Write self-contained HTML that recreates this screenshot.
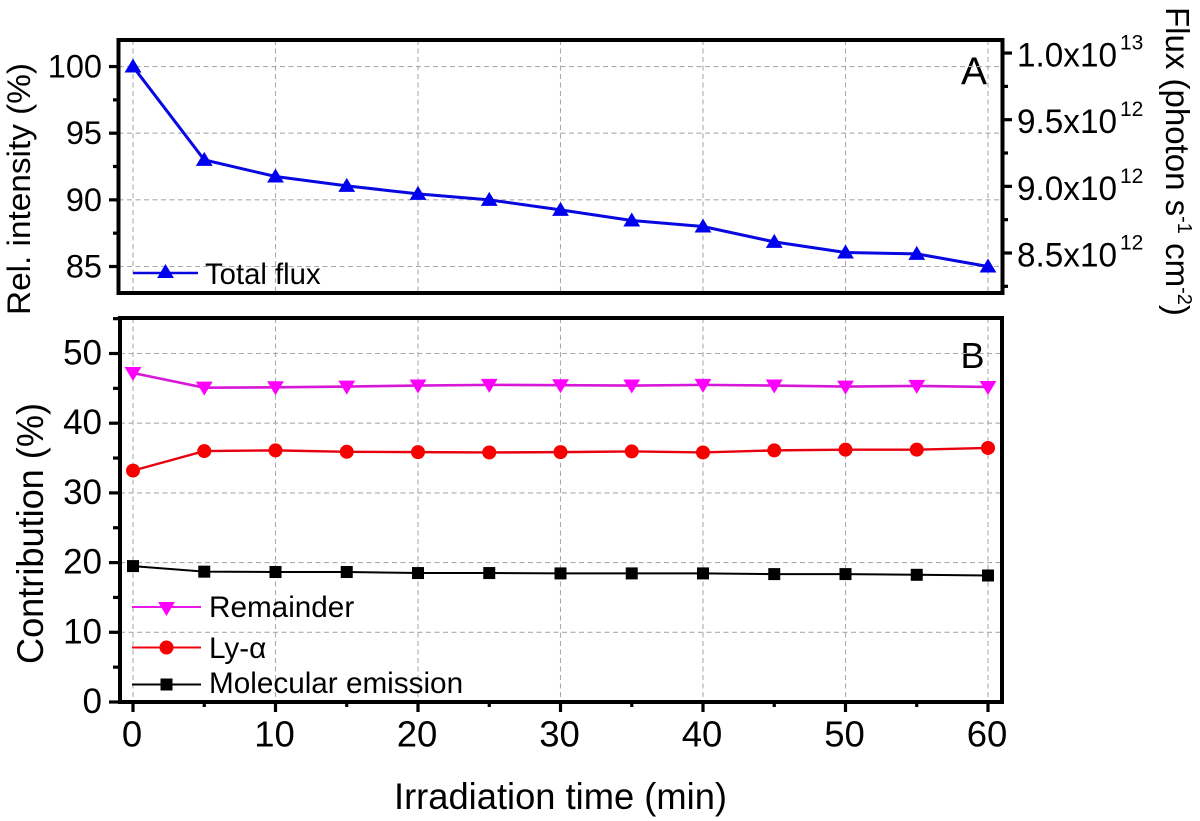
<!DOCTYPE html>
<html lang="en">
<head>
<meta charset="utf-8">
<title>Irradiation time chart</title>
<style>
html,body{margin:0;padding:0;background:#fff;width:1200px;height:821px;overflow:hidden}
svg{display:block}
text{font-family:"Liberation Sans",Arial,sans-serif;fill:#000}
</style>
</head>
<body>
<svg id="chart" xmlns="http://www.w3.org/2000/svg" width="1200" height="821" viewBox="0 0 1200 821">
  <text transform="translate(30,315) rotate(-90)" font-size="32.5" textLength="252" lengthAdjust="spacingAndGlyphs">Rel. intensity (%)</text>
  <text transform="translate(43,664) rotate(-90)" font-size="37" textLength="261" lengthAdjust="spacingAndGlyphs">Contribution (%)</text>
  <text transform="translate(1166,7) rotate(90)" font-size="33">Flux (photon s<tspan dy="-12" font-size="20">-1</tspan><tspan dy="12"> cm</tspan><tspan dy="-12" font-size="20">-2</tspan><tspan dy="12">)</tspan></text>
  <text x="394" y="809" font-size="37" textLength="333" lengthAdjust="spacingAndGlyphs">Irradiation time (min)</text>
  <text x="961" y="84.5" font-size="39">A</text>
  <text x="960.5" y="368" font-size="36">B</text>
</svg>
<script>
const times = [0, 5, 10, 15, 20, 25, 30, 35, 40, 45, 50, 55, 60];
const totalFlux = [100, 93, 91.75, 91.05, 90.45, 90, 89.25, 88.45, 88, 86.85, 86.05, 85.95, 85];
const remainder = [47.2, 45.1, 45.15, 45.25, 45.4, 45.5, 45.45, 45.4, 45.5, 45.4, 45.25, 45.35, 45.2];
const lyAlpha = [33.2, 36, 36.1, 35.9, 35.85, 35.8, 35.85, 35.95, 35.8, 36.1, 36.2, 36.2, 36.45];
const molecular = [19.5, 18.7, 18.65, 18.65, 18.5, 18.5, 18.45, 18.45, 18.45, 18.35, 18.35, 18.25, 18.15];
const xTicks = [0, 10, 20, 30, 40, 50, 60];
const xMinorTicks = [5, 15, 25, 35, 45, 55];
const topTicks = [85, 90, 95, 100];
const topMinorTicks = [87.5, 92.5, 97.5];
const bottomTicks = [0, 10, 20, 30, 40, 50];
const bottomMinorTicks = [5, 15, 25, 35, 45, 55];
const fluxTicks = [8.5, 9.0, 9.5, 10.0];
const fluxMinorTicks = [8.25, 8.75, 9.25, 9.75];
const fluxTickMantissa = ['8.5', '9.0', '9.5', '1.0'];
const fluxTickExponent = ['12', '12', '12', '13'];

const NS = 'http://www.w3.org/2000/svg';
const svg = document.getElementById('chart');
const xScale = v => 133 + (v - 0) * 14.25;
const topY = v => 266.5 + (85 - v) * 13.33;
const bottomY = v => 702 - v * 6.97;
const fluxY = v => 253 - (v - 8.5) * 133.3;

function make(tag, attrs, text) {
  const el = document.createElementNS(NS, tag);
  for (const k in attrs) el.setAttribute(k, attrs[k]);
  if (text !== undefined) el.textContent = text;
  svg.appendChild(el);
  return el;
}
function line(name, x1, y1, x2, y2, stroke, width, dash) {
  const el = make('line', { x1, y1, x2, y2, stroke, 'stroke-width': width });
  if (dash) el.setAttribute('stroke-dasharray', dash);
  
  
  return el;
}
function label(name, x, y, size, anchor, str) {
  const el = make('text', { x, y, 'font-size': size, 'text-anchor': anchor }, str);
  
  
  return el;
}
function marker(name, kind, cx, cy, r, color) {
  let el;
  if (kind === 'up') {
    el = make('polygon', { points: `${cx},${cy - r} ${cx + r * 1.05},${cy + r * 0.75} ${cx - r * 1.05},${cy + r * 0.75}`, fill: color });
  } else if (kind === 'down') {
    el = make('polygon', { points: `${cx},${cy + r} ${cx + r * 1.05},${cy - r * 0.75} ${cx - r * 1.05},${cy - r * 0.75}`, fill: color });
  } else if (kind === 'circle') {
    el = make('circle', { cx, cy, r, fill: color });
  } else {
    el = make('rect', { x: cx - r, y: cy - r, width: 2 * r, height: 2 * r, fill: color });
  }
  
  
  return el;
}
function series(name, values, yFn, lineColor, markerColor, width, kind, r) {
  const pts = values.map((v, i) => xScale(times[i]) + ',' + yFn(v)).join(' ');
  const path = make('polyline', { points: pts, fill: 'none', stroke: lineColor, 'stroke-width': width });
  
  
  values.forEach((v, i) => marker(name + '-point', kind, xScale(times[i]), yFn(v), r, markerColor));
}

const GRID = '#ababab', DASH = '5 3.5';
const T = { l: 118.5, r: 1002.5, t: 40, b: 293 };
const B = { l: 120, r: 1002, t: 318, b: 702 };

/* grids */
xTicks.forEach(v => {
  line('top-x-gridline', xScale(v), T.t, xScale(v), T.b, GRID, 1.1, DASH);
  line('bottom-x-gridline', xScale(v), B.t, xScale(v), B.b, GRID, 1.1, DASH);
});
topTicks.forEach(v => line('top-y-gridline', T.l, topY(v), T.r, topY(v), GRID, 1.1, DASH));
bottomTicks.forEach(v => line('bottom-y-gridline', B.l, bottomY(v), B.r, bottomY(v), GRID, 1.1, DASH));

/* series */
series('total-flux', totalFlux, topY, '#0808e0', '#0000f0', 3, 'up', 8);
series('remainder', remainder, bottomY, '#d818d8', '#ff00ff', 2.6, 'down', 8);
series('ly-alpha', lyAlpha, bottomY, '#e80010', '#f60000', 2.4, 'circle', 7);
series('molecular-emission', molecular, bottomY, '#000', '#000', 2, 'square', 6);

/* frames */
const f1 = make('rect', { x: T.l, y: T.t, width: T.r - T.l, height: T.b - T.t, fill: 'none', stroke: '#000', 'stroke-width': 4 });


const f2 = make('rect', { x: B.l, y: B.t, width: B.r - B.l, height: B.b - B.t, fill: 'none', stroke: '#000', 'stroke-width': 4 });



/* left ticks, top */
topTicks.forEach(v => {
  line('top-y-tick', 109, topY(v), T.l, topY(v), '#000', 3.2);
  label('top-y-tick-label', 102, topY(v) + 11, 32.5, 'end', String(v));
});
topMinorTicks.forEach(v => line('top-y-minor-tick', 113, topY(v), T.l, topY(v), '#000', 3.2));

/* left ticks, bottom */
bottomTicks.forEach(v => {
  line('bottom-y-tick', 109, bottomY(v), B.l, bottomY(v), '#000', 3.2);
  label('bottom-y-tick-label', 102, bottomY(v) + 11, 35, 'end', String(v));
});
bottomMinorTicks.forEach(v => line('bottom-y-minor-tick', 113, bottomY(v), B.l, bottomY(v), '#000', 3.2));

/* x ticks */
xTicks.forEach(v => {
  line('x-tick', xScale(v), B.b, xScale(v), 712, '#000', 3.2);
  label('x-tick-label', xScale(v) - 1, 746.5, 36.5, 'middle', String(v));
});
xMinorTicks.forEach(v => line('x-minor-tick', xScale(v), B.b, xScale(v), 707, '#000', 3.2));

/* right ticks */
fluxTicks.forEach((v, i) => {
  line('flux-tick', T.r, fluxY(v), 1012, fluxY(v), '#000', 3.2);
  const t = label('flux-tick-label', 1017, fluxY(v) + 13.5, 34.5, 'start', fluxTickMantissa[i] + 'x10');
  t.setAttribute('textLength', '100');
  t.setAttribute('lengthAdjust', 'spacingAndGlyphs');
  label('flux-tick-exponent', 1120, fluxY(v) - 3.5, 21, 'start', fluxTickExponent[i]);
});
fluxMinorTicks.forEach(v => line('flux-minor-tick', T.r, fluxY(v), 1008, fluxY(v), '#000', 3.2));

/* legends */
line('legend-total-flux-line', 133, 273, 198, 273, '#0808e0', 2.4);
marker('legend-total-flux-marker', 'up', 165.5, 272, 8, '#0000f0');
label('legend-total-flux-label', 205, 284, 29.3, 'start', 'Total flux');

line('legend-remainder-line', 132, 607, 201, 607, '#e818e8', 2);
marker('legend-remainder-marker', 'down', 166.5, 608, 8, '#ff00ff');
label('legend-remainder-label', 209, 617, 29.7, 'start', 'Remainder');

line('legend-ly-alpha-line', 132, 647.5, 201, 647.5, '#f00010', 2);
marker('legend-ly-alpha-marker', 'circle', 166.5, 647.5, 7, '#f60000');
label('legend-ly-alpha-label', 209, 658, 29.7, 'start', 'Ly-α');

line('legend-molecular-emission-line', 132, 684.5, 201, 684.5, '#000', 2);
marker('legend-molecular-emission-marker', 'square', 166.5, 684.5, 6, '#000');
label('legend-molecular-emission-label', 209, 693, 29.7, 'start', 'Molecular emission');
</script>
</body>
</html>
